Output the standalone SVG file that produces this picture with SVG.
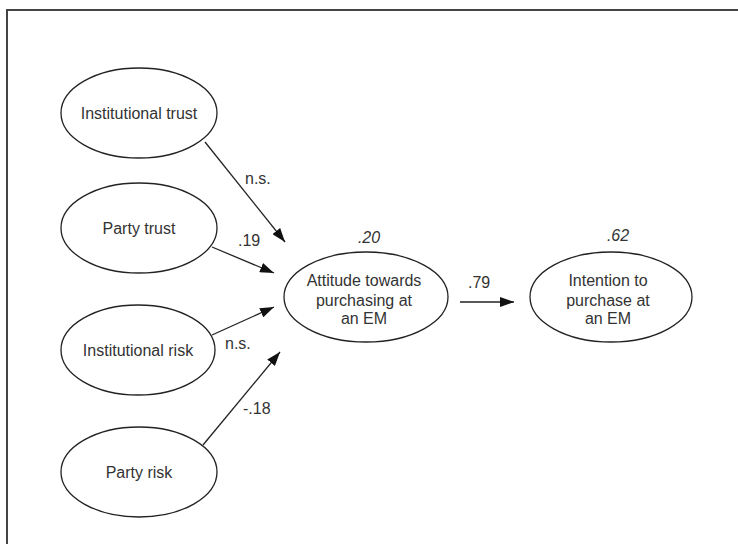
<svg xmlns="http://www.w3.org/2000/svg" width="738" height="544" viewBox="0 0 738 544">
<style>
.n{fill:#fff;stroke:#222;stroke-width:1.3}
.t{font-family:"Liberation Sans",Arial,sans-serif;font-size:16px;fill:#333;text-anchor:middle}
.l{font-family:"Liberation Sans",Arial,sans-serif;font-size:16px;fill:#333}
.i{font-style:italic}
.c{stroke:#222;stroke-width:1.3;fill:none;marker-end:url(#ah)}
</style>
<defs>
<marker id="ah" viewBox="0 0 14 10" refX="14" refY="5" markerWidth="14" markerHeight="10" markerUnits="userSpaceOnUse" orient="auto">
<path d="M0,0 L14,5 L0,10 z" fill="#111"/>
</marker>
</defs>
<rect width="738" height="544" fill="#fff"/>
<path d="M7,544 V10 H738" fill="none" stroke="#444" stroke-width="2"/>
<g id="connectors">
<line class="c" x1="205" y1="142" x2="285" y2="242"/>
<line class="c" x1="212" y1="247" x2="274" y2="273"/>
<line class="c" x1="212" y1="335" x2="274" y2="307"/>
<line class="c" x1="203" y1="445" x2="280" y2="352"/>
<line class="c" x1="460" y1="302" x2="514" y2="302"/>
<text class="l" x="245" y="184">n.s.</text>
<text class="l" x="238" y="246">.19</text>
<text class="l" x="225" y="349">n.s.</text>
<text class="l" x="243" y="414">-.18</text>
<text class="l" x="468" y="288">.79</text>
</g>
<g id="institutional-trust">
<ellipse class="n" cx="139" cy="113" rx="78" ry="45"/>
<text class="t" x="139" y="119">Institutional trust</text>
</g>
<g id="party-trust">
<ellipse class="n" cx="139" cy="228" rx="78" ry="45"/>
<text class="t" x="139" y="234">Party trust</text>
</g>
<g id="institutional-risk">
<ellipse class="n" cx="138" cy="350" rx="77" ry="45"/>
<text class="t" x="138" y="356">Institutional risk</text>
</g>
<g id="party-risk">
<ellipse class="n" cx="139" cy="472" rx="78" ry="45"/>
<text class="t" x="139" y="478">Party risk</text>
</g>
<g id="attitude">
<text class="t i" x="369" y="243">.20</text>
<ellipse class="n" cx="366" cy="297" rx="82" ry="45"/>
<text class="t" x="364" y="286">Attitude towards</text>
<text class="t" x="364" y="306">purchasing at</text>
<text class="t" x="364" y="324">an EM</text>
</g>
<g id="intention">
<text class="t i" x="618" y="241">.62</text>
<ellipse class="n" cx="611" cy="297" rx="81" ry="45"/>
<text class="t" x="608" y="286">Intention to</text>
<text class="t" x="608" y="306">purchase at</text>
<text class="t" x="608" y="324">an EM</text>
</g>
</svg>
